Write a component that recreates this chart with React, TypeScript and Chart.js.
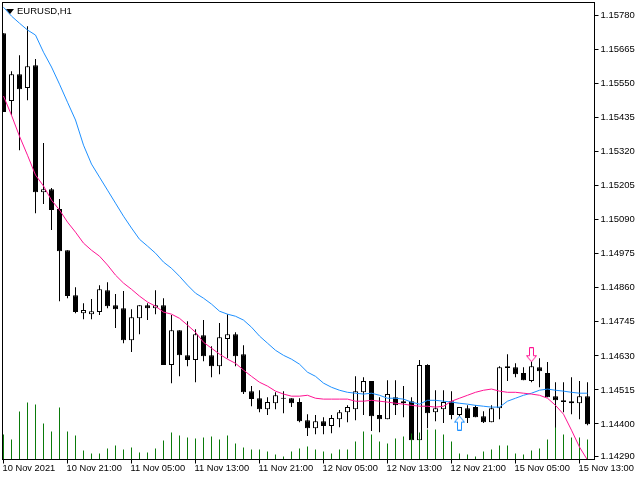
import React, { useEffect, useRef } from "react";
import { Chart, registerables } from "chart.js";

Chart.register(...registerables);

const opens = [
  1.1572, 1.15491, 1.15582, 1.15535, 1.15612, 1.15183, 1.15193, 1.15126, 1.14987, 1.14835,
  1.14774, 1.14771, 1.14778, 1.14852, 1.14801, 1.14791, 1.14683, 1.14757, 1.14801, 1.14791,
  1.14801, 1.14599, 1.14717, 1.14632, 1.14616, 1.147, 1.14632, 1.14595, 1.14687, 1.14703,
  1.14636, 1.14511, 1.14487, 1.1445, 1.1447, 1.14485, 1.14487, 1.14474, 1.14413, 1.14386,
  1.14409, 1.14393, 1.14416, 1.1444, 1.1445, 1.14507, 1.14545, 1.1443, 1.14416, 1.1449,
  1.1447, 1.14477, 1.14345, 1.14599, 1.1444, 1.1445, 1.14477, 1.1443, 1.14453, 1.14457,
  1.14426, 1.14406, 1.14453, 1.14595, 1.14592, 1.14572, 1.14545, 1.14592, 1.14572, 1.14494,
  1.1448, 1.14477, 1.1447, 1.14494,
];
const closes = [
  1.15454, 1.15582, 1.15531, 1.15609, 1.15183, 1.15193, 1.15123, 1.14984, 1.14832, 1.14778,
  1.14785, 1.14781, 1.14855, 1.14798, 1.14788, 1.14683, 1.14761, 1.14801, 1.14791, 1.14801,
  1.14599, 1.14717, 1.14632, 1.14616, 1.14703, 1.14629, 1.14595, 1.14693, 1.14703, 1.14629,
  1.14507, 1.14484, 1.1445, 1.14474, 1.14497, 1.14489, 1.1447, 1.14409, 1.14386, 1.14409,
  1.14393, 1.1442, 1.1444, 1.14457, 1.14511, 1.14545, 1.14426, 1.14416, 1.14501, 1.14463,
  1.14477, 1.14345, 1.14599, 1.14436, 1.14453, 1.14474, 1.1443, 1.14457, 1.1442, 1.14423,
  1.14406, 1.14453, 1.14592, 1.14589, 1.14568, 1.14548, 1.14595, 1.14578, 1.1449, 1.1448,
  1.14474, 1.1447, 1.14494, 1.14399,
];
const highs = [
  1.1572, 1.15592, 1.15646, 1.15744, 1.15633, 1.15349, 1.15197, 1.1516, 1.14987, 1.14862,
  1.14808, 1.14822, 1.14869, 1.14879, 1.14839, 1.14849, 1.14788, 1.14801, 1.14808, 1.14852,
  1.14825, 1.14768, 1.14717, 1.14747, 1.1472, 1.14751, 1.14663, 1.14741, 1.14771, 1.1471,
  1.14666, 1.14528, 1.14514, 1.1449, 1.14507, 1.14511, 1.14487, 1.14487, 1.14433, 1.1443,
  1.14423, 1.1443, 1.14447, 1.14463, 1.14561, 1.14558, 1.14545, 1.1449, 1.14548, 1.14548,
  1.14528, 1.1449, 1.14616, 1.14602, 1.14514, 1.14514, 1.14511, 1.14457, 1.14463, 1.14463,
  1.14443, 1.14463, 1.14595, 1.14636, 1.14605, 1.14592, 1.14632, 1.14622, 1.14609, 1.14541,
  1.14541, 1.14558, 1.14545, 1.14541,
];
const lows = [
  1.15454, 1.15443, 1.15325, 1.15494, 1.15112, 1.15143, 1.15055, 1.14815, 1.14825, 1.14774,
  1.14754, 1.14754, 1.14768, 1.14791, 1.14724, 1.14673, 1.14643, 1.14703, 1.14751, 1.14771,
  1.14599, 1.14538, 1.14561, 1.14595, 1.14541, 1.14612, 1.14558, 1.14568, 1.14622, 1.14595,
  1.14501, 1.1446, 1.1444, 1.1443, 1.1445, 1.14436, 1.14457, 1.14406, 1.14359, 1.14365,
  1.14365, 1.14369, 1.14389, 1.14406, 1.14413, 1.1443, 1.14376, 1.14372, 1.14416, 1.1443,
  1.14423, 1.14345, 1.14345, 1.14386, 1.14409, 1.14403, 1.14416, 1.14423, 1.14403, 1.14423,
  1.14403, 1.14406, 1.14416, 1.14545, 1.14558, 1.14548, 1.14541, 1.14524, 1.1449, 1.14386,
  1.1444, 1.14433, 1.14416, 1.14396,
];
const volumes = [
  250, 200, 480, 570, 550, 360, 280, 520, 280, 240,
  90, 60, 60, 110, 140, 100, 120, 70, 70, 110,
  190, 270, 240, 220, 210, 220, 230, 200, 240, 160,
  120, 100, 100, 80, 50, 30, 80, 110, 130, 100,
  80, 60, 100, 100, 180, 280, 250, 180, 160, 210,
  230, 260, 270, 300, 300, 250, 180, 60, 50, 30,
  80, 100, 140, 140, 60, 50, 90, 110, 200, 320,
  250, 220, 220, 200,
];
const pinkLine = [
  1.15508, 1.15443, 1.15372, 1.15308, 1.15241, 1.15204, 1.15156, 1.15123, 1.15082, 1.15048,
  1.15011, 1.14987, 1.14967, 1.14937, 1.14903, 1.14876, 1.14855, 1.14832, 1.14812, 1.14798,
  1.14778, 1.14771, 1.14757, 1.14734, 1.1471, 1.14676, 1.14656, 1.14636, 1.14619, 1.14605,
  1.14582, 1.14561, 1.14541, 1.14528, 1.14511, 1.14501, 1.14494, 1.14494, 1.14497, 1.14487,
  1.14484, 1.14484, 1.14484, 1.14484, 1.14477, 1.14477, 1.1448, 1.14477, 1.14474, 1.1447,
  1.14467, 1.14463, 1.1446, 1.1446, 1.14457, 1.1446, 1.14477, 1.14487, 1.14497, 1.14507,
  1.14514, 1.14518, 1.14511, 1.14507, 1.14507, 1.14504, 1.14501, 1.14497, 1.14487, 1.14463,
  1.14433, 1.14379, 1.14322, 1.14278,
];
const blueLine = [
  1.15808, 1.15778, 1.15754, 1.15731, 1.15714, 1.15656, 1.15606, 1.15548, 1.15487, 1.15427,
  1.15342, 1.15278, 1.15234, 1.1519, 1.15146, 1.15102, 1.15062, 1.15024, 1.15001, 1.14977,
  1.14947, 1.14926, 1.14899, 1.14869, 1.14842, 1.14825, 1.14805, 1.14781, 1.14771, 1.14764,
  1.14751, 1.14727, 1.14697, 1.14673, 1.14649, 1.14632, 1.14619, 1.14602, 1.14575, 1.14561,
  1.14538, 1.14524, 1.14514, 1.14507, 1.14504, 1.14501, 1.14504, 1.14497, 1.14487, 1.14487,
  1.14484, 1.14474, 1.14467, 1.1448, 1.1448, 1.14477, 1.14474, 1.1447, 1.14467, 1.14463,
  1.1446, 1.14457, 1.14457, 1.14477, 1.14487, 1.14497, 1.14504, 1.14514, 1.14518, 1.14514,
  1.14511, 1.14507, 1.14504, 1.14504,
];
const priceTicks = [
  1.1578, 1.15665, 1.1555, 1.15435, 1.1532, 1.15205, 1.1509, 1.14975,
  1.1486, 1.14745, 1.1463, 1.14515, 1.144, 1.1429,
];
const timeTickIndex = [0, 8, 16, 24, 32, 40, 48, 56, 64, 72];
const timeTickLabels = [
  "10 Nov 2021", "10 Nov 21:00", "11 Nov 05:00", "11 Nov 13:00", "11 Nov 21:00",
  "12 Nov 05:00", "12 Nov 13:00", "12 Nov 21:00", "15 Nov 05:00", "15 Nov 13:00",
];
const buySignal = [{ x: 57, y: 1.14403 }];
const sellSignal = [{ x: 66, y: 1.14634 }];
const symbolTitle = "EURUSD,H1";

const FONT = "'Liberation Sans', sans-serif";
const PINK = "#ff1493";
const BLUE = "#1e90ff";
const GREEN = "#0a7a0a";

function arrowCanvas(color: string, up: boolean) {
  const c = document.createElement("canvas");
  c.width = 11;
  c.height = 15;
  const g = c.getContext("2d")!;
  const pts = [
    [5.5, 0.5], [10.5, 6.5], [7.5, 6.5], [7.5, 14.5],
    [3.5, 14.5], [3.5, 6.5], [0.5, 6.5],
  ];
  g.beginPath();
  pts.forEach(([x, y], i) => {
    const py = up ? y : 15 - y;
    if (i === 0) g.moveTo(x, py);
    else g.lineTo(x, py);
  });
  g.closePath();
  g.fillStyle = "#ffffff";
  g.fill();
  g.strokeStyle = color;
  g.lineWidth = 1;
  g.stroke();
  return c;
}

const framePlugin = {
  id: "frame",
  afterDraw(chart: any) {
    const { ctx, chartArea: a } = chart;
    ctx.save();
    ctx.strokeStyle = "#000";
    ctx.lineWidth = 1;
    ctx.strokeRect(a.left, a.top, a.right - a.left, a.bottom - a.top);
    ctx.fillStyle = "#000";
    ctx.beginPath();
    ctx.moveTo(6, 9);
    ctx.lineTo(14, 9);
    ctx.lineTo(10, 14);
    ctx.closePath();
    ctx.fill();
    ctx.font = `9.5px ${FONT}`;
    ctx.textBaseline = "middle";
    ctx.textAlign = "left";
    ctx.fillText(symbolTitle, 17, 11);
    ctx.restore();
  },
};

export default function App() {
  const ref = useRef<HTMLCanvasElement>(null);
  useEffect(() => {
    const idx = opens.map((_, i) => i);
    const up = idx.map((i) => closes[i] >= opens[i]);
    const bodyOpts = {
      barThickness: 5,
      grouped: false,
      inflateAmount: 0,
    };
    const chart = new Chart(ref.current!, {
      type: "bar",
      data: {
        datasets: [
          {
            type: "line",
            data: buySignal,
            showLine: false,
            pointStyle: arrowCanvas(BLUE, true),
            pointRadius: 6,
            order: 0,
            yAxisID: "y",
            xAxisID: "x",
          },
          {
            type: "line",
            data: sellSignal,
            showLine: false,
            pointStyle: arrowCanvas(PINK, false),
            pointRadius: 6,
            order: 0,
            yAxisID: "y",
            xAxisID: "x",
          },
          {
            type: "line",
            data: idx.map((i) => ({ x: i, y: blueLine[i] })),
            borderColor: BLUE,
            borderWidth: 1,
            pointRadius: 0,
            tension: 0,
            order: 2,
          },
          {
            type: "line",
            data: idx.map((i) => ({ x: i, y: pinkLine[i] })),
            borderColor: PINK,
            borderWidth: 1,
            pointRadius: 0,
            tension: 0,
            order: 1,
          },
          {
            data: idx.map((i) => ({ x: i, y: volumes[i] })),
            backgroundColor: GREEN,
            barThickness: 1,
            grouped: false,
            inflateAmount: 0,
            yAxisID: "vol",
            order: 3,
          },
          {
            data: idx.map((i) => ({ x: i, y: [opens[i], closes[i]] })),
            backgroundColor: up.map((u) => (u ? "#ffffff" : "#000000")),
            borderColor: "#000000",
            borderWidth: 1,
            borderSkipped: false,
            ...bodyOpts,
            order: 4,
          },
          {
            data: idx.map((i) => ({ x: i, y: [lows[i], highs[i]] })),
            backgroundColor: "#000000",
            barThickness: 1,
            grouped: false,
            inflateAmount: 0,
            order: 5,
          },
        ],
      } as any,
      options: {
        responsive: false,
        animation: false,
        devicePixelRatio: 1,
        layout: { autoPadding: false, padding: { left: 2.5, top: 2.5, right: 0, bottom: 0 } },
        plugins: { legend: { display: false }, tooltip: { enabled: false }, title: { display: false } },
        scales: {
          x: {
            type: "linear",
            offset: false,
            min: -0.125,
            max: 73.875,
            grid: { display: true, offset: false, drawOnChartArea: false, drawTicks: true, tickLength: 4, color: "#000" },
            border: { display: false },
            afterBuildTicks(s: any) {
              s.ticks = timeTickIndex.map((value) => ({ value }));
            },
            afterFit(s: any) {
              s.height = 20.5;
              s.paddingRight = 0;
              s.paddingLeft = 0;
            },
            ticks: {
              autoSkip: false,
              maxRotation: 0,
              minRotation: 0,
              align: "start",
              padding: -1,
              labelOffset: -1,
              color: "#000",
              font: { family: FONT, size: 9.3 },
              callback: (v: any) => timeTickLabels[timeTickIndex.indexOf(Number(v))] ?? "",
            },
          },
          y: {
            type: "linear",
            position: "right",
            min: 1.1428,
            max: 1.15824,
            grid: { display: true, drawOnChartArea: false, drawTicks: true, tickLength: 4, color: "#000" },
            border: { display: false },
            afterBuildTicks(s: any) {
              s.ticks = priceTicks.map((value) => ({ value }));
            },
            afterFit(s: any) {
              s.width = 45.5;
              s.paddingTop = 0;
              s.paddingBottom = 0;
            },
            ticks: {
              padding: 2,
              color: "#000",
              font: { family: FONT, size: 9.5 },
              callback: (v: any) => Number(v).toFixed(5),
            },
          },
          vol: { type: "linear", display: false, min: 0, max: 4570 },
        },
      } as any,
      plugins: [framePlugin],
    });
    return () => chart.destroy();
  }, []);
  return (
    <canvas
      ref={ref}
      width={640}
      height={480}
      style={{ position: "fixed", left: 0, top: 0, width: 640, height: 480, display: "block" }}
    />
  );
}
